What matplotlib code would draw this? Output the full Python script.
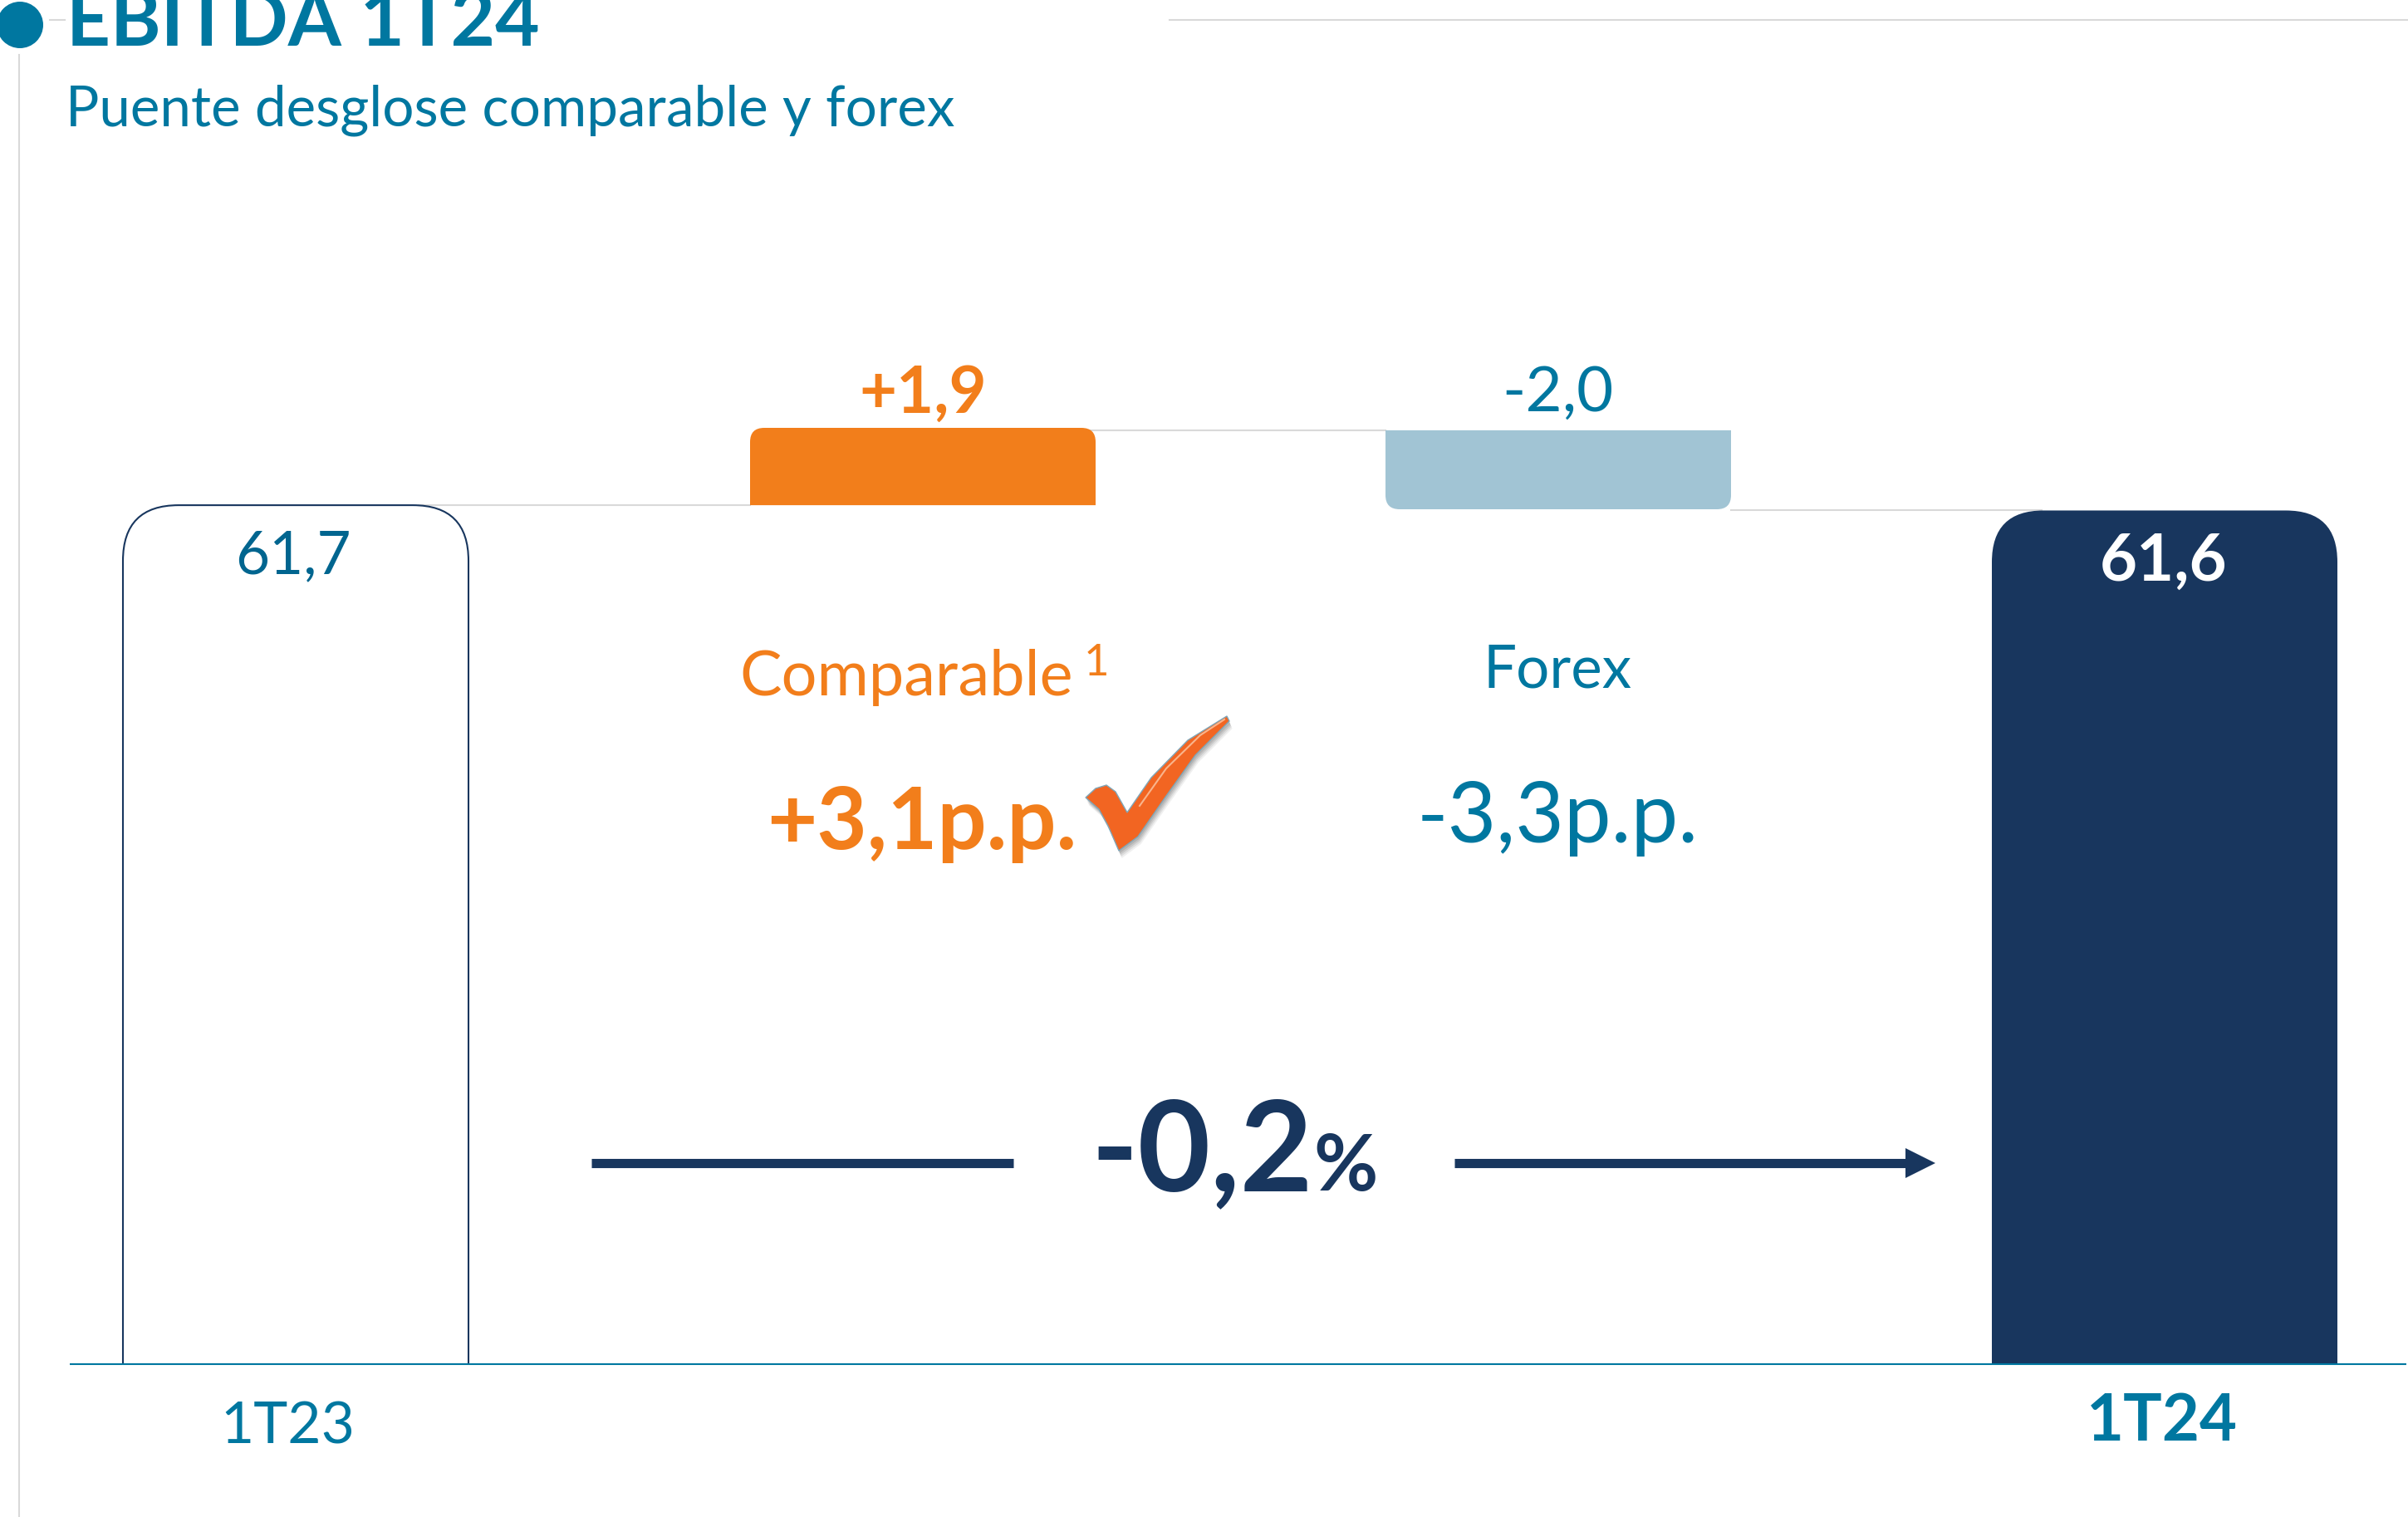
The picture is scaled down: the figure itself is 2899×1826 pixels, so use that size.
#!/usr/bin/env python3
"""
EBITDA 1T24 bridge: comparable and forex
"""

import matplotlib
matplotlib.use('Agg')
import matplotlib.pyplot as plt
from matplotlib.patches import PathPatch, Polygon, Circle
from matplotlib.path import Path

plt.rcParams['font.family'] = ['Lato', 'Open Sans', 'DejaVu Sans']

# Data
totals_labels = ['1T23', '1T24']
totals_values = [61.7, 61.6]
step_labels = ['Comparable', 'Forex']
step_values = [1.9, -2.0]
step_pp = ['+3,1p.p.', '-3,3p.p.']
change_label = '-0,2'

# Colours
teal = '#0077a0'
teal_dark = '#00658f'
navy = '#18365e'
orange = '#f27e1b'
forex_blue = '#a1c4d4'
grey = '#d9d9d9'

W, H = 2899, 1826
BASE_PX = 1642      # pixel row of the chart baseline
PX_PER_UNIT = 49.0  # the value axis is truncated
AXIS_FLOOR = 40.6
BAR_W = 416
BAR_X = [148, 903, 1668, 2398]


def fmt(v, sign=False):
    s = f'{v:+.1f}' if sign else f'{v:.1f}'
    return s.replace('.', ',')


def rounded_bar(ax, x0, x1, y0, y1, rx, ry, top=True, bottom=False, **kw):
    """Bar from y0 to y1 (data units) with rounded top and/or bottom corners"""
    v, c = [], []
    if bottom:
        v += [(x0 + rx, y0)]; c += [Path.MOVETO]
        v += [(x1 - rx, y0), (x1, y0), (x1, y0 + ry)]; c += [Path.LINETO, Path.CURVE3, Path.CURVE3]
    else:
        v += [(x0, y0), (x1, y0)]; c += [Path.MOVETO, Path.LINETO]
    if top:
        v += [(x1, y1 - ry), (x1, y1), (x1 - rx, y1), (x0 + rx, y1), (x0, y1), (x0, y1 - ry)]
        c += [Path.LINETO, Path.CURVE3, Path.CURVE3, Path.LINETO, Path.CURVE3, Path.CURVE3]
    else:
        v += [(x1, y1), (x0, y1)]; c += [Path.LINETO, Path.LINETO]
    if bottom:
        v += [(x0, y0 + ry), (x0, y0), (x0 + rx, y0)]; c += [Path.LINETO, Path.CURVE3, Path.CURVE3]
    else:
        v += [(x0, y0)]; c += [Path.LINETO]
    p = PathPatch(Path(v, c), **kw)
    ax.add_patch(p)
    return p


fig = plt.figure(figsize=(W / 100, H / 100), dpi=100, facecolor='white')

# Overlay in pixel coordinates for the page furniture and text
ov = fig.add_axes([0, 0, 1, 1], zorder=2)
ov.set_xlim(0, W)
ov.set_ylim(H, 0)
ov.axis('off')
ov.patch.set_alpha(0)

# Chart axes: x in pixels, y in values
ax = fig.add_axes([0, (H - BASE_PX) / H, 1, BASE_PX / H], zorder=1)
ax.set_xlim(0, W)
ax.set_ylim(AXIS_FLOOR, AXIS_FLOOR + BASE_PX / PX_PER_UNIT)
ax.axis('off')

# Bars
start, end = totals_values
after_comp = start + step_values[0]
after_forex = after_comp + step_values[1]

# connector lines
ax.plot([BAR_X[0] + BAR_W - 60, BAR_X[1]], [start, start], color=grey, lw=1.5, zorder=1)
ax.plot([BAR_X[1] + BAR_W - 20, BAR_X[2]], [after_comp - 0.06, after_comp - 0.06], color=grey, lw=1.5, zorder=1)
ax.plot([BAR_X[2] + BAR_W, BAR_X[3] + 60], [end - 0.03, end - 0.03], color=grey, lw=1.5, zorder=1)

ry1 = 67 / PX_PER_UNIT
rounded_bar(ax, BAR_X[0], BAR_X[0] + BAR_W, AXIS_FLOOR, start, 67, ry1,
            facecolor='white', edgecolor=navy, linewidth=1.5, zorder=2)
rounded_bar(ax, BAR_X[1], BAR_X[1] + BAR_W, start, after_comp, 17, 17 / PX_PER_UNIT,
            facecolor=orange, edgecolor='none', zorder=2)
rounded_bar(ax, BAR_X[2], BAR_X[2] + BAR_W, after_forex, after_comp - 0.06, 17, 17 / PX_PER_UNIT,
            top=False, bottom=True, facecolor=forex_blue, edgecolor='none', zorder=2)
rounded_bar(ax, BAR_X[3], BAR_X[3] + BAR_W, AXIS_FLOOR, end - 0.03, 62, 62 / PX_PER_UNIT,
            facecolor=navy, edgecolor='none', zorder=2)

# Baseline
ov.plot([84, W - 2], [BASE_PX, BASE_PX], color=teal, lw=1.5, solid_capstyle='butt')

# Header
ov.add_patch(Circle((24, 30), 28, facecolor=teal, edgecolor='none'))
ov.plot([23, 23], [66, H], color=grey, lw=1.5)
ov.plot([60, 78], [24, 24], color=grey, lw=1.5)
ov.plot([1408, W], [24, 24], color=grey, lw=1.5)
ov.text(80, 55, 'EBITDA 1T24', color=teal, fontsize=66.5, fontweight='bold', va='baseline', ha='left')
ov.text(79, 152, 'Puente desglose comparable y forex', color=teal, fontsize=48.5, va='baseline', ha='left')

# Value labels
ov.text(353, 690, fmt(start), color=teal_dark, fontsize=51, va='baseline', ha='center')
ov.text(2605, 699, fmt(end), color='white', fontsize=56, fontweight='bold', va='baseline', ha='center')
ov.text(1111, 497, fmt(step_values[0], sign=True), color=orange, fontsize=56, fontweight='bold',
        va='baseline', ha='center')
ov.text(1875, 495, fmt(step_values[1]), color=teal, fontsize=55, va='baseline', ha='center')

# Category labels
ov.text(346, 1738, totals_labels[0], color=teal, fontsize=50, va='baseline', ha='center')
ov.text(2603, 1734, totals_labels[1], color=teal, fontsize=56, fontweight='bold', va='baseline', ha='center')

# Step annotations
ov.text(890, 837, step_labels[0], color=orange, fontsize=54.5, va='baseline', ha='left')
ov.text(1320, 813, '1', color=orange, fontsize=38, va='baseline', ha='center')
ov.text(1875, 827, step_labels[1], color=teal, fontsize=51, va='baseline', ha='center')
ov.text(1296, 1022, step_pp[0], color=orange, fontsize=75, fontweight='bold', va='baseline', ha='right')
ov.text(1875, 1014, step_pp[1], color=teal, fontsize=73, va='baseline', ha='center')

# Check mark, soft shadow first
check = [(1307, 960), (1319, 949), (1332, 945), (1343, 953), (1357, 978), (1386, 936),
         (1430, 891), (1477, 862), (1480, 868), (1439, 909), (1404, 958), (1370, 1007),
         (1347, 1024), (1334, 994), (1323, 974)]
for off, alpha in [(9, 0.10), (7, 0.14), (5, 0.18), (3, 0.22)]:
    ov.add_patch(Polygon([(x + off * 0.4, y + off) for x, y in check],
                         facecolor='#6e6e6e', edgecolor='none', alpha=alpha))
ov.add_patch(Polygon(check, facecolor='#f26522', edgecolor='#7fa6b8', linewidth=1))
ov.plot([1372, 1404, 1445, 1474], [970, 925, 885, 866], color='#f9b48c', lw=1.5)

# Total change arrow
ov.plot([712, 1220], [1400, 1400], color=navy, lw=8, solid_capstyle='butt')
ov.plot([1751, 2300], [1400, 1400], color=navy, lw=8, solid_capstyle='butt')
ov.add_patch(Polygon([(2294, 1382), (2330, 1400), (2294, 1418)], facecolor=navy, edgecolor='none'))
ov.text(1581, 1433, change_label, color=navy, fontsize=109, fontweight='bold', va='baseline', ha='right')
ov.text(1581, 1433, '%', color=navy, fontsize=68, fontweight='bold', va='baseline', ha='left')

fig.savefig('out.png', dpi=100, facecolor='white')
plt.close(fig)
